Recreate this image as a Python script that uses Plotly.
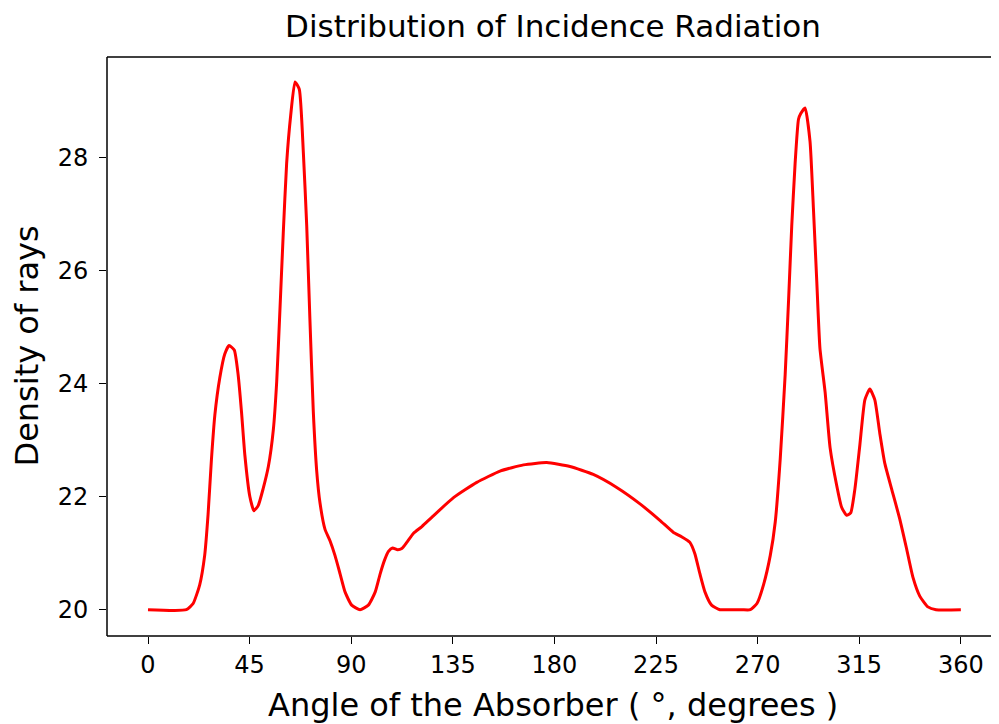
import plotly.graph_objects as go

angles = [0, 17, 20, 22.9, 25.1, 26.6, 28.1, 29.6, 31.8, 34.0, 35.9, 38.2, 39.9, 41.4, 42.9, 45.1,
          46.9, 48.8, 51.0, 53.3, 55.5, 57.0, 58.4, 59.9, 61.4, 63.2, 65.1, 67.0, 68.8, 70.3,
          71.7, 73.2, 74.7, 76.2, 78.4, 80.6, 82.8, 85.1, 87.3, 90.2, 93.9, 97.6, 100.6, 102.8,
          104.8, 106.5, 108.3, 110.5, 112.4, 114.6, 117.6, 121.3, 126.4, 135.3, 145.6, 155.9,
          166.3, 176.6, 186.9, 197.2, 207.6, 217.9, 226.7, 232.6, 236.3, 240.0, 242.2, 244.4,
          246.7, 249.6, 253.3, 258, 263, 266.8, 269.7, 272.6, 275.6, 277.8, 280.0, 282.2, 283.7,
          285.1, 286.6, 288.1, 289.1, 291.0, 293.2, 294.7, 296.2, 297.6, 299.9, 302.1, 305.0,
          307.2, 309.4, 311.2, 313.1, 315.3, 317.5, 319.7, 321.9, 324.1, 326.3, 329.3, 332.9,
          335.9, 338.8, 341.8, 345.4, 349, 360]
density = [20.0, 20.0, 20.11, 20.44, 20.96, 21.68, 22.66, 23.44, 24.1, 24.52, 24.67, 24.59, 24.16,
           23.5, 22.73, 22.0, 21.75, 21.84, 22.14, 22.53, 23.18, 24.03, 25.27, 26.65, 27.89,
           28.74, 29.33, 29.2, 28.08, 26.78, 25.14, 23.51, 22.46, 21.88, 21.42, 21.22, 20.96,
           20.63, 20.31, 20.08, 20.0, 20.08, 20.31, 20.63, 20.88, 21.03, 21.09, 21.06, 21.08,
           21.19, 21.35, 21.47, 21.66, 21.98, 22.25, 22.45, 22.56, 22.6, 22.53, 22.39, 22.16,
           21.87, 21.58, 21.37, 21.29, 21.19, 20.99, 20.64, 20.31, 20.08, 20.0, 20.0, 20.0,
           20.0, 20.11, 20.44, 20.96, 21.55, 22.66, 24.16, 25.47, 26.78, 27.89, 28.67, 28.77,
           28.87, 28.28, 27.1, 25.8, 24.62, 23.84, 22.86, 22.2, 21.81, 21.67, 21.71, 22.14,
           22.92, 23.71, 23.9, 23.71, 23.12, 22.59, 22.14, 21.61, 21.09, 20.57, 20.24, 20.05,
           20.0, 20.0]

x_ticks = [0, 45, 90, 135, 180, 225, 270, 315, 360]
y_ticks = [20, 22, 24, 26, 28]

font = "DejaVu Sans"
# the page body has an 8px margin, so the figure is drawn 8px in from the top-left corner
W, H = 991, 716
L, R, T, B = 99, 0, 49, 88
PW, PH = W - L - R, H - T - B

fig = go.Figure()
fig.add_trace(go.Scatter(x=angles, y=density, mode="lines",
                         line=dict(color="#ff0000", width=3, shape="spline", smoothing=0.5),
                         showlegend=False))

fig.update_layout(
    width=W, height=H,
    paper_bgcolor="white", plot_bgcolor="white",
    margin=dict(l=L, r=R, t=T, b=B, autoexpand=False),
    font=dict(family=font, color="black", size=24),
    title=dict(text="Distribution of Incidence Radiation", x=0.5, xref="paper",
               xanchor="center", y=1 - 18 / H, yanchor="middle",
               font=dict(size=31, family=font)),
    xaxis=dict(range=[-18.16, 376.9], tickvals=x_ticks, ticktext=[str(v) for v in x_ticks],
               showgrid=False, zeroline=False, showline=False, automargin=False,
               ticks="outside", ticklen=7, tickwidth=1.3, tickcolor="black",
               tickfont=dict(size=24)),
    yaxis=dict(range=[19.535, 29.77], tickvals=y_ticks, ticktext=[str(v) for v in y_ticks],
               showgrid=False, zeroline=False, showline=False, automargin=False,
               ticks="outside", ticklen=7, tickwidth=1.3, tickcolor="black",
               ticklabelstandoff=6, tickfont=dict(size=24)),
)

fig.add_annotation(text="Angle of the Absorber ( °, degrees )", xref="paper", yref="paper",
                   x=0.5, y=-(697 - (H - B)) / PH,
                   xanchor="center", yanchor="middle", showarrow=False,
                   font=dict(size=32, family=font))
fig.add_annotation(text="Density of rays", xref="paper", yref="paper",
                   x=-(L - 18) / PW, y=0.5,
                   xanchor="center", yanchor="middle", textangle=-90, showarrow=False,
                   font=dict(size=32, family=font))

# axes frame (left, bottom, top); right spine lies outside the picture
for x0, y0, x1, y1 in [(0, 0, 0, 1), (0, 0, 1, 0), (0, 1, 1, 1)]:
    fig.add_shape(type="line", xref="paper", yref="paper", x0=x0, y0=y0, x1=x1, y1=y1,
                  line=dict(color="black", width=1.5))

fig.write_html("out.html")
